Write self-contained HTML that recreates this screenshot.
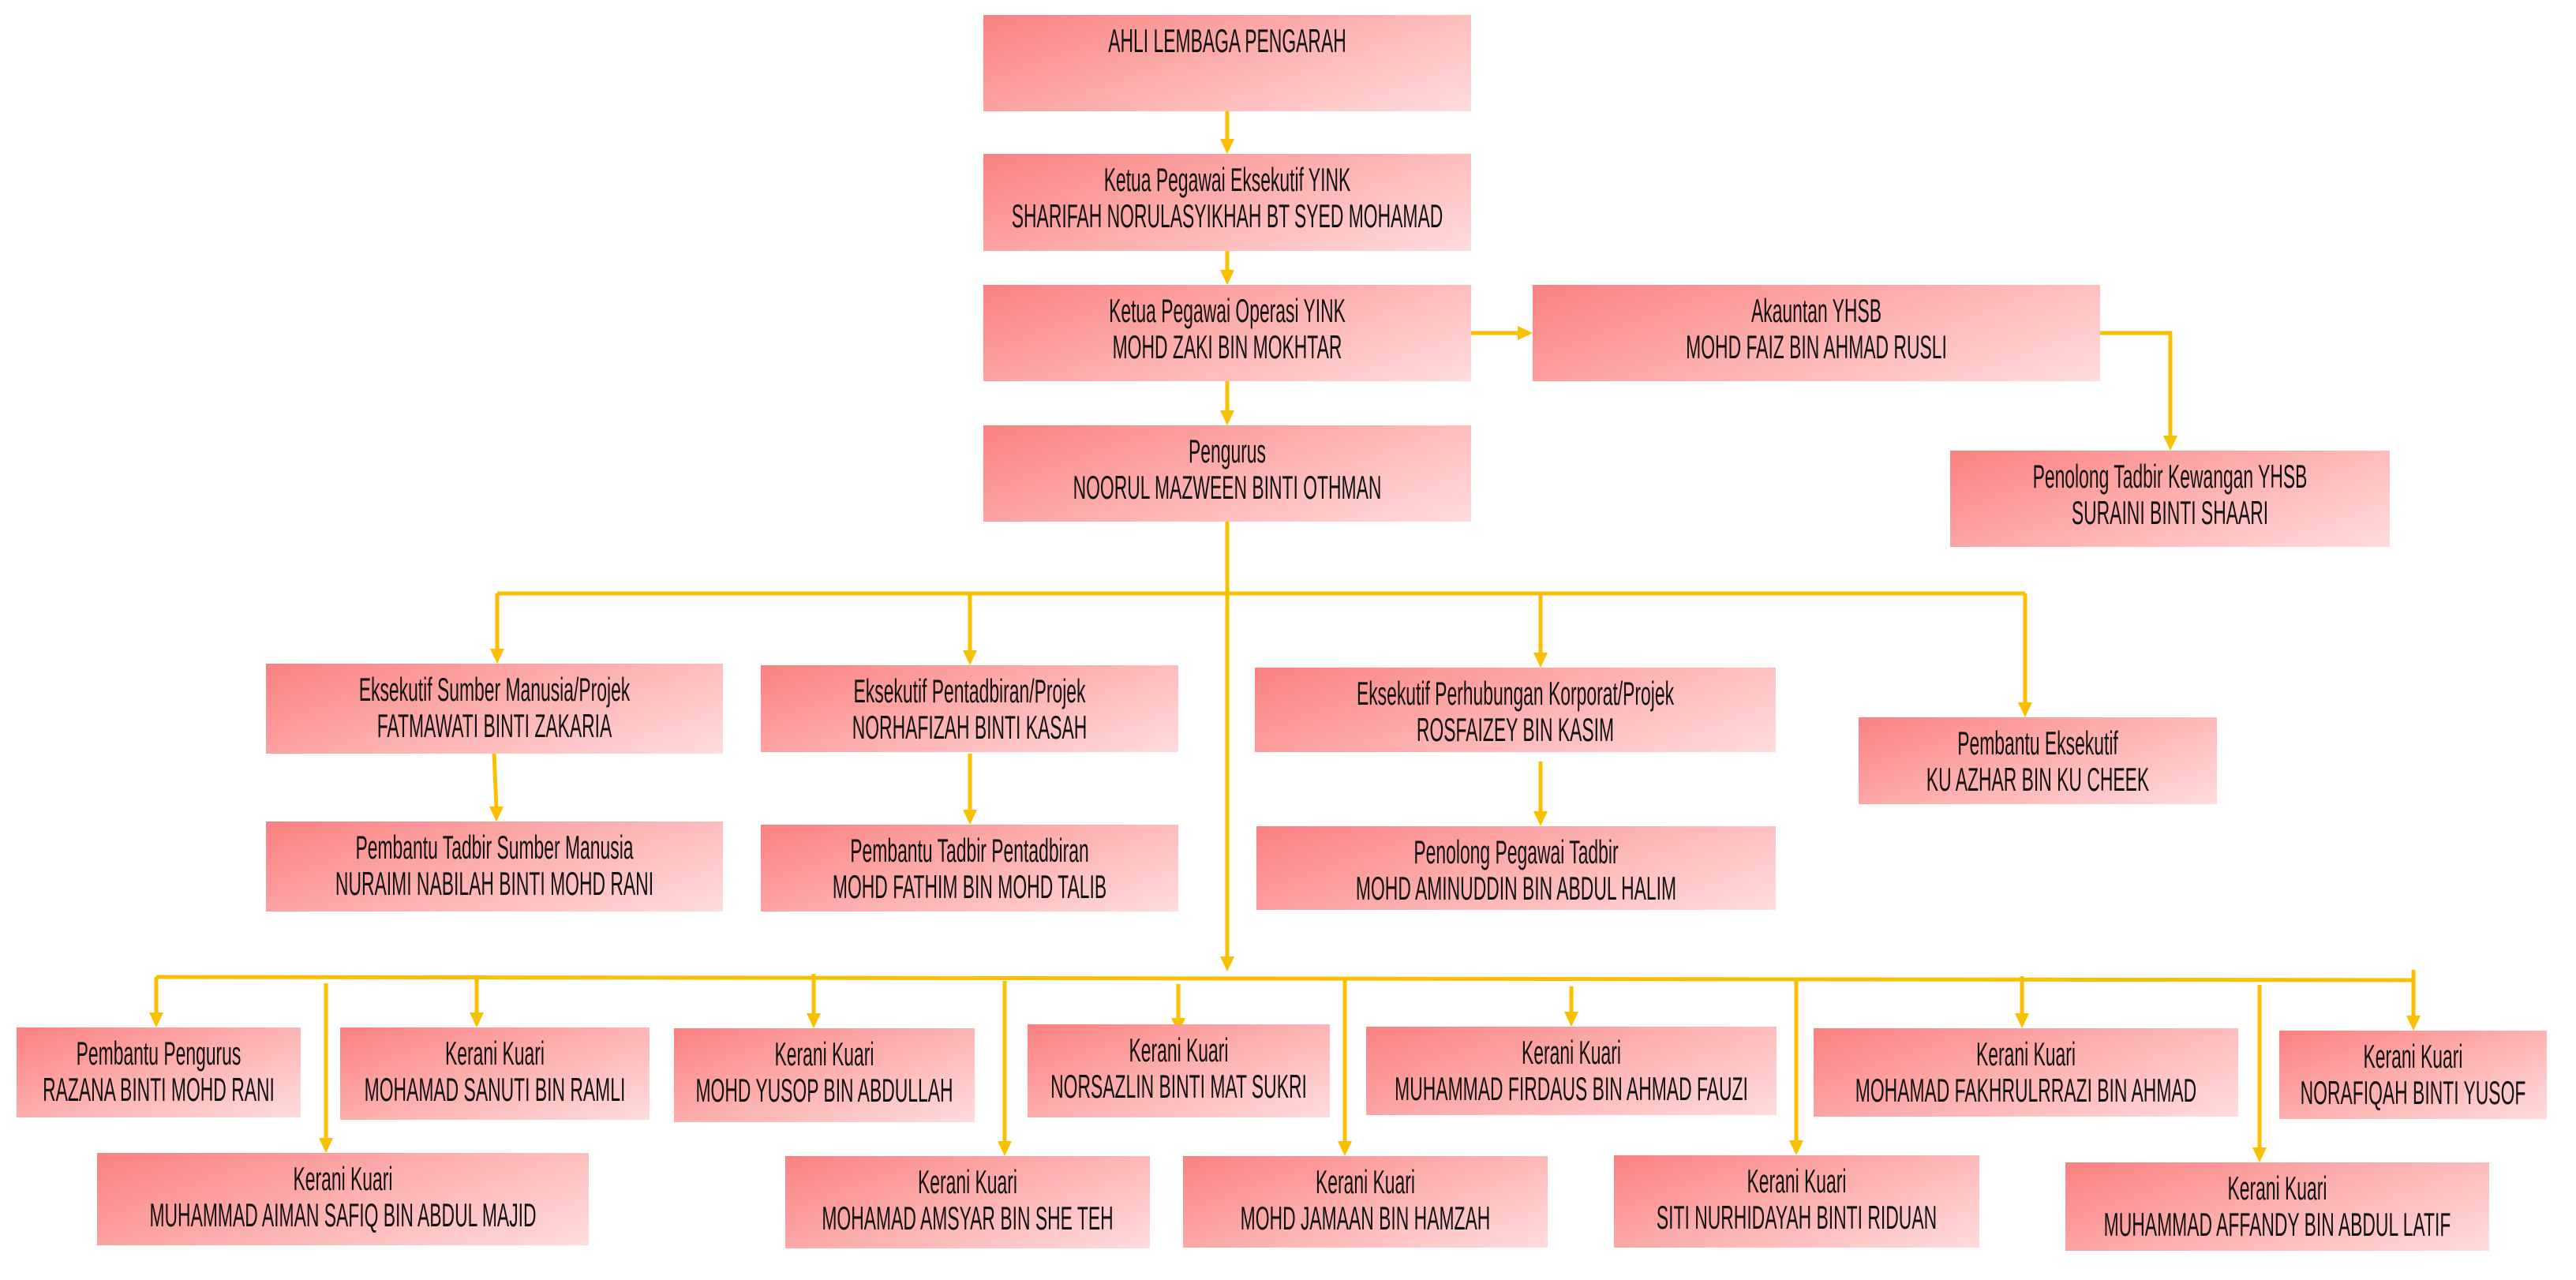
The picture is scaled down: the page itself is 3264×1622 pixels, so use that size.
<!DOCTYPE html>
<html><head><meta charset="utf-8"><style>
html,body{margin:0;padding:0;background:#fff;}
#c{position:relative;width:3264px;height:1622px;overflow:hidden;background:#fff;}
.b{position:absolute;background:linear-gradient(160deg,#fb8080 0%,#fdb0b0 50%,#ffdcdc 100%);box-sizing:border-box;padding-top:10px;}
.b div{white-space:nowrap;text-align:center;font-family:"Liberation Sans",sans-serif;font-size:42px;line-height:46px;color:#111;transform:scaleX(0.545);transform-origin:center;margin-left:-600px;margin-right:-600px;}
svg{position:absolute;left:0;top:0;}
</style></head><body><div id="c">
<svg width="3264" height="1622" viewBox="0 0 3264 1622">
<g stroke="#f8c000" stroke-width="5" fill="none">
<path d="M1555 141V178M1555 318V344M1555 483V522M1864 422H1925M2661 422H2750V554M1555 661V1214"/>
<path d="M630 752H2566M630 752V824M1229 752V826M1952 752V829M2566 752V892"/>
<path d="M626 955L629 1024M1229 955V1028M1952 965V1030"/>
<path d="M198 1238L3058 1242M3058 1229V1289"/>
<path d="M198 1238V1285M413 1246V1444M604 1238V1285M1031 1234V1286M1273 1243V1448M1493 1247V1292M1704 1240V1448M1991 1250V1284M2276 1240V1447M2562 1237V1286M2863 1248V1456"/>
</g>
<g fill="#f8c000">
<path d="M1546 176H1564L1555 195Z"/><path d="M1546 342H1564L1555 361Z"/><path d="M1546 520H1564L1555 539Z"/>
<path d="M1923 413V431L1942 422Z"/><path d="M2741 552H2759L2750 571Z"/>
<path d="M1546 1212H1564L1555 1231Z"/>
<path d="M621 822H639L630 841Z"/><path d="M1220 824H1238L1229 843Z"/><path d="M1943 827H1961L1952 846Z"/><path d="M2557 890H2575L2566 909Z"/>
<path d="M620 1022H638L629 1041Z"/><path d="M1220 1026H1238L1229 1045Z"/><path d="M1943 1028H1961L1952 1047Z"/>
<path d="M189 1283H207L198 1302Z"/><path d="M404 1442H422L413 1461Z"/><path d="M595 1283H613L604 1302Z"/><path d="M1022 1284H1040L1031 1303Z"/><path d="M1264 1446H1282L1273 1465Z"/><path d="M1484 1290H1502L1493 1309Z"/><path d="M1695 1446H1713L1704 1465Z"/><path d="M1982 1282H2000L1991 1301Z"/><path d="M2267 1445H2285L2276 1464Z"/><path d="M2553 1284H2571L2562 1303Z"/><path d="M2854 1454H2872L2863 1473Z"/><path d="M3049 1287H3067L3058 1306Z"/>
</g>
</svg>
<div class="b" style="left:1246px;top:19px;width:618px;height:122px"><div>AHLI LEMBAGA PENGARAH</div></div>
<div class="b" style="left:1246px;top:195px;width:618px;height:123px"><div>Ketua Pegawai Eksekutif YINK</div><div>SHARIFAH NORULASYIKHAH BT SYED MOHAMAD</div></div>
<div class="b" style="left:1246px;top:361px;width:618px;height:122px"><div>Ketua Pegawai Operasi YINK</div><div>MOHD ZAKI BIN MOKHTAR</div></div>
<div class="b" style="left:1942px;top:361px;width:719px;height:122px"><div>Akauntan YHSB</div><div>MOHD FAIZ BIN AHMAD RUSLI</div></div>
<div class="b" style="left:1246px;top:539px;width:618px;height:122px"><div>Pengurus</div><div>NOORUL MAZWEEN BINTI OTHMAN</div></div>
<div class="b" style="left:2471px;top:571px;width:557px;height:122px"><div>Penolong Tadbir Kewangan YHSB</div><div>SURAINI BINTI SHAARI</div></div>
<div class="b" style="left:337px;top:841px;width:579px;height:114px"><div>Eksekutif Sumber Manusia/Projek</div><div>FATMAWATI BINTI ZAKARIA</div></div>
<div class="b" style="left:964px;top:843px;width:529px;height:110px"><div>Eksekutif Pentadbiran/Projek</div><div>NORHAFIZAH BINTI KASAH</div></div>
<div class="b" style="left:1590px;top:846px;width:660px;height:107px"><div>Eksekutif Perhubungan Korporat/Projek</div><div>ROSFAIZEY BIN KASIM</div></div>
<div class="b" style="left:2355px;top:909px;width:454px;height:110px"><div>Pembantu Eksekutif</div><div>KU AZHAR BIN KU CHEEK</div></div>
<div class="b" style="left:337px;top:1041px;width:579px;height:114px"><div>Pembantu Tadbir Sumber Manusia</div><div>NURAIMI NABILAH BINTI MOHD RANI</div></div>
<div class="b" style="left:964px;top:1045px;width:529px;height:110px"><div>Pembantu Tadbir Pentadbiran</div><div>MOHD FATHIM BIN MOHD TALIB</div></div>
<div class="b" style="left:1592px;top:1047px;width:658px;height:106px"><div>Penolong Pegawai Tadbir</div><div>MOHD AMINUDDIN BIN ABDUL HALIM</div></div>
<div class="b" style="left:21px;top:1302px;width:360px;height:114px"><div>Pembantu Pengurus</div><div>RAZANA BINTI MOHD RANI</div></div>
<div class="b" style="left:431px;top:1302px;width:392px;height:117px"><div>Kerani Kuari</div><div>MOHAMAD SANUTI BIN RAMLI</div></div>
<div class="b" style="left:854px;top:1303px;width:381px;height:119px"><div>Kerani Kuari</div><div>MOHD YUSOP BIN ABDULLAH</div></div>
<div class="b" style="left:1302px;top:1298px;width:383px;height:118px"><div>Kerani Kuari</div><div>NORSAZLIN BINTI MAT SUKRI</div></div>
<div class="b" style="left:1731px;top:1301px;width:520px;height:112px"><div>Kerani Kuari</div><div>MUHAMMAD FIRDAUS BIN AHMAD FAUZI</div></div>
<div class="b" style="left:2298px;top:1303px;width:538px;height:112px"><div>Kerani Kuari</div><div>MOHAMAD FAKHRULRRAZI BIN AHMAD</div></div>
<div class="b" style="left:2888px;top:1306px;width:339px;height:112px"><div>Kerani Kuari</div><div>NORAFIQAH BINTI YUSOF</div></div>
<div class="b" style="left:123px;top:1461px;width:623px;height:117px"><div>Kerani Kuari</div><div>MUHAMMAD AIMAN SAFIQ BIN ABDUL MAJID</div></div>
<div class="b" style="left:995px;top:1465px;width:462px;height:117px"><div>Kerani Kuari</div><div>MOHAMAD AMSYAR BIN SHE TEH</div></div>
<div class="b" style="left:1499px;top:1465px;width:462px;height:116px"><div>Kerani Kuari</div><div>MOHD JAMAAN BIN HAMZAH</div></div>
<div class="b" style="left:2045px;top:1464px;width:463px;height:117px"><div>Kerani Kuari</div><div>SITI NURHIDAYAH BINTI RIDUAN</div></div>
<div class="b" style="left:2617px;top:1473px;width:537px;height:112px"><div>Kerani Kuari</div><div>MUHAMMAD AFFANDY BIN ABDUL LATIF</div></div>
</div></body></html>
